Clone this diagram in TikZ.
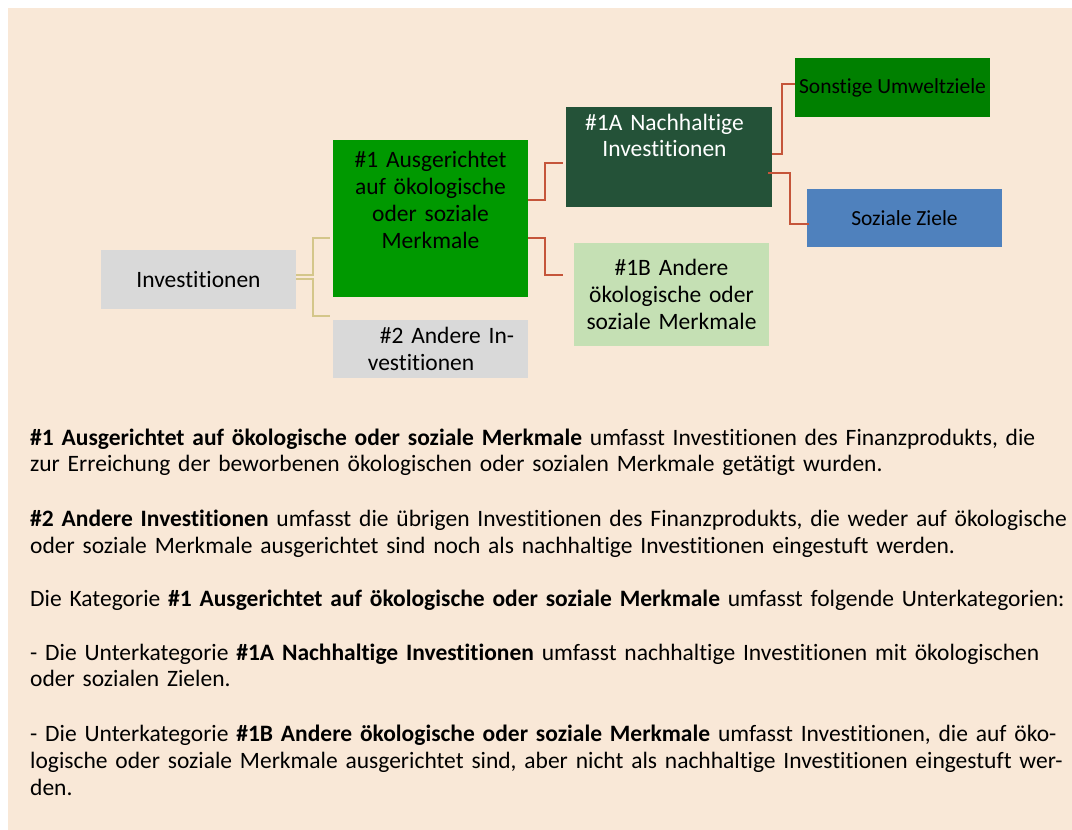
\documentclass[tikz,border=0pt]{standalone}
\usepackage{fontspec}
\setmainfont{Carlito}[Ligatures={NoCommon,NoContextual,NoRare},
                      Contextuals={NoAlternate}]
\definecolor{hintergrund}{HTML}{F9E8D7}
\definecolor{grauKat}{HTML}{D9D9D9}
\definecolor{gruenKat}{HTML}{009900}
\definecolor{dunkelGruen}{HTML}{245238}
\definecolor{hellGruen}{HTML}{C5E0B4}
\definecolor{gruenZiel}{HTML}{008000}
\definecolor{blauZiel}{HTML}{4F81BD}
\definecolor{linieGelb}{HTML}{D4C68A}
\definecolor{linieRot}{HTML}{C5553A}
\usetikzlibrary{positioning}

\begin{document}
\begin{tikzpicture}[
  x=1pt, y=-1pt,
  kat/.style={rectangle, inner sep=0pt, minimum width=195pt, align=center,
              font=\fontsize{23.5}{26.8}\selectfont},
  ziel/.style={rectangle, inner sep=0pt, minimum width=195pt, align=center,
               font=\fontsize{21.5}{26}\selectfont},
  gelbLink/.style={draw=linieGelb, line width=1.5pt},
  rotLink/.style={draw=linieRot, line width=2pt},
  absatz/.style={anchor=base west, inner sep=0pt, text width=1100pt, align=left,
                 font=\fontsize{23.5}{26.9}\selectfont}
]
\useasboundingbox (0,0) rectangle (1072,830);
\fill[hintergrund] (8,8) rectangle (1072,830);

% Wurzel und Kategorien
\node[kat, fill=grauKat, minimum height=59pt] (inv) at (198.5,279.5) {Investitionen};
\node[kat, fill=gruenKat, minimum height=157pt, text width=180pt,
      text height=0pt, text depth=101.6pt] (kat1) at (430.5,218.5)
      {\#1 Ausgerichtet\\auf ökologische\\oder soziale\\Merkmale};
\node[kat, fill=grauKat, minimum height=58pt, text width=190pt] (kat2) at (430.5,349)
      {\hspace*{33pt}\#2 Andere In-\\\hspace*{-19pt}vestitionen};

% Unterkategorien
\node[kat, fill=dunkelGruen, text=white, minimum width=206pt, minimum height=100pt,
      text width=190pt, text height=0pt, text depth=54pt] (kat1a) at (669,157)
      {\hspace*{-9pt}\#1A Nachhaltige\\\hspace*{-9pt}Investitionen};
\node[kat, fill=hellGruen, minimum height=103pt, text width=185pt] (kat1b) at (671.5,294.5)
      {\#1B Andere\\ökologische oder\\soziale Merkmale};

% Ziele
\node[ziel, fill=gruenZiel, minimum height=59pt] (umwelt) at (892.5,87.5) {Sonstige Umweltziele};
\node[ziel, fill=blauZiel, minimum height=58pt] (sozial) at (904.5,218) {Soziale Ziele};

% Verbindungen
\draw[gelbLink] ([yshift=4.5pt]inv.east) -- ++(17pt,0) |- ([xshift=-3pt,yshift=-19.5pt]kat1.west);
\draw[gelbLink] ([yshift=0.5pt]inv.east) -- ++(17pt,0) |- ([xshift=-3pt,yshift=4pt]kat2.north west);
\draw[rotLink] ([yshift=18.5pt]kat1.east) -- ++(17pt,0) |- ([xshift=-3pt,yshift=-6pt]kat1a.west);
\draw[rotLink] ([yshift=-19.5pt]kat1.east) -- ++(17pt,0) |- ([xshift=-11pt,yshift=19.5pt]kat1b.west);
\draw[rotLink] ([yshift=3pt]kat1a.east) -- ++(10pt,0) |- ([yshift=3.5pt]umwelt.west);
\draw[rotLink] ([xshift=-4pt,yshift=-16pt]kat1a.east) -- ++(22pt,0) |- ([xshift=2pt,yshift=-6pt]sozial.west);

% Erläuterungen
\node[absatz] (txt1) at (30,445)
  {\textbf{\#1 Ausgerichtet auf ökologische oder soziale Merkmale} umfasst Investitionen des Finanzprodukts, die\\
   zur Erreichung der beworbenen ökologischen oder sozialen Merkmale getätigt wurden.};
\node[absatz] (txt2) at (30,526.5)
  {\textbf{\#2 Andere Investitionen} umfasst die übrigen Investitionen des Finanzprodukts, die weder auf ökologische\\
   oder soziale Merkmale ausgerichtet sind noch als nachhaltige Investitionen eingestuft werden.};
\node[absatz] (txt3) at (30,606.5)
  {Die Kategorie \textbf{\#1 Ausgerichtet auf ökologische oder soziale Merkmale} umfasst folgende Unterkategorien:};
\node[absatz] (txt4) at (30,660)
  {- Die Unterkategorie \textbf{\#1A Nachhaltige Investitionen} umfasst nachhaltige Investitionen mit ökologischen\\
   oder sozialen Zielen.};
\node[absatz] (txt5) at (30,741.5)
  {- Die Unterkategorie \textbf{\#1B Andere ökologische oder soziale Merkmale} umfasst Investitionen, die auf öko-\\
   logische oder soziale Merkmale ausgerichtet sind, aber nicht als nachhaltige Investitionen eingestuft wer-\\
   den.};

\end{tikzpicture}
\end{document}
